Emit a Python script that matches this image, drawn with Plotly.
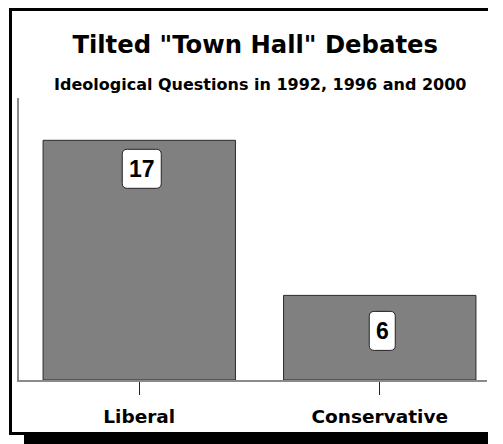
import plotly.graph_objects as go

# ---- data ----
categories = ["Liberal", "Conservative"]
questions = [17, 6]
title_text = 'Tilted "Town Hall" Debates'
subtitle_text = "Ideological Questions in 1992, 1996 and 2000"

W, H = 480, 436
ML, MR, MT, MB = 11, 1, 90, 64
PW, PH = W - ML - MR, H - MT - MB
FONT = "DejaVu Sans"
NUMFONT = "Liberation Sans"
UNIT = 240.5  # pixels per category step
X_RANGE = [-0.5, -0.5 + PW / UNIT]


def px(x):
    return (x - ML) / PW


def py(y):
    return (H - MB - y) / PH


def rounded_rect(x0, x1, y0, y1, r):
    return (f"M{x0 + r},{y0} L{x1 - r},{y0} Q{x1},{y0} {x1},{y0 + r} "
            f"L{x1},{y1 - r} Q{x1},{y1} {x1 - r},{y1} L{x0 + r},{y1} "
            f"Q{x0},{y1} {x0},{y1 - r} L{x0},{y0 + r} Q{x0},{y0} {x0 + r},{y0} Z")


fig = go.Figure()
fig.add_trace(go.Bar(
    x=categories, y=questions, width=0.8,
    marker=dict(color="#808080", line=dict(color="#2a2a2a", width=1)),
    hoverinfo="skip",
))

label_drop = [28.5, 35.5]   # pixels below the bar top
for i, (c, v, d) in enumerate(zip(categories, questions, label_drop)):
    txt = str(v)
    hw = (13 * len(txt) + 13) / 2
    hh = 19.5
    cx = 2.5
    fig.add_shape(type="path", xref="x", yref="y",
                  xsizemode="pixel", ysizemode="pixel",
                  xanchor=i, yanchor=v,
                  path=rounded_rect(cx - hw, cx + hw, -d - hh, -d + hh, 5),
                  fillcolor="white", line=dict(color="#222", width=1),
                  layer="above")
    fig.add_annotation(
        x=c, y=v, xref="x", yref="y", text=txt, showarrow=False,
        xanchor="center", yanchor="middle", yshift=-d, xshift=cx,
        font=dict(family=NUMFONT, size=23, color="black", weight="bold"),
    )

# subtitle
fig.add_annotation(
    x=px(252), y=py(76.5), xref="paper", yref="paper", text=subtitle_text,
    showarrow=False, xanchor="center", yanchor="middle",
    font=dict(family=FONT, size=16, color="black", weight="bold"),
)

# frame (left, top, bottom edges) and drop shadow
fig.add_shape(type="rect", xref="paper", yref="paper",
              x0=px(16), x1=px(W), y0=py(426.5), y1=py(H),
              fillcolor="black", line=dict(width=0), layer="below")
for (xa, ya, xb, yb) in [(2.5, 0, 2.5, 427), (1, 1.5, W, 1.5), (1, 425.5, W, 425.5)]:
    fig.add_shape(type="line", xref="paper", yref="paper",
                  x0=px(xa), y0=py(ya), x1=px(xb), y1=py(yb),
                  line=dict(color="black", width=3), layer="above")

fig.update_layout(
    width=W, height=H,
    margin=dict(l=ML, r=MR, t=MT, b=MB),
    paper_bgcolor="white", plot_bgcolor="white",
    showlegend=False,
    title=dict(text=title_text, x=px(252), xanchor="center",
               y=1 - 36.5 / H, yanchor="middle",
               font=dict(family=FONT, size=24.3, color="black", weight="bold")),
    xaxis=dict(
        range=X_RANGE, showline=True, linecolor="#8a8a8a", linewidth=1.5,
        ticks="outside", ticklen=13, tickcolor="#222", tickwidth=1,
        ticklabelstandoff=6,
        tickfont=dict(family=FONT, size=18.5, color="black", weight="bold"),
        showgrid=False, zeroline=False, fixedrange=True,
    ),
    yaxis=dict(
        range=[0, 20], showline=True, linecolor="#8a8a8a", linewidth=1.5,
        showticklabels=False, ticks="", showgrid=False, zeroline=False,
        fixedrange=True,
    ),
)

fig.write_html("out.html")
